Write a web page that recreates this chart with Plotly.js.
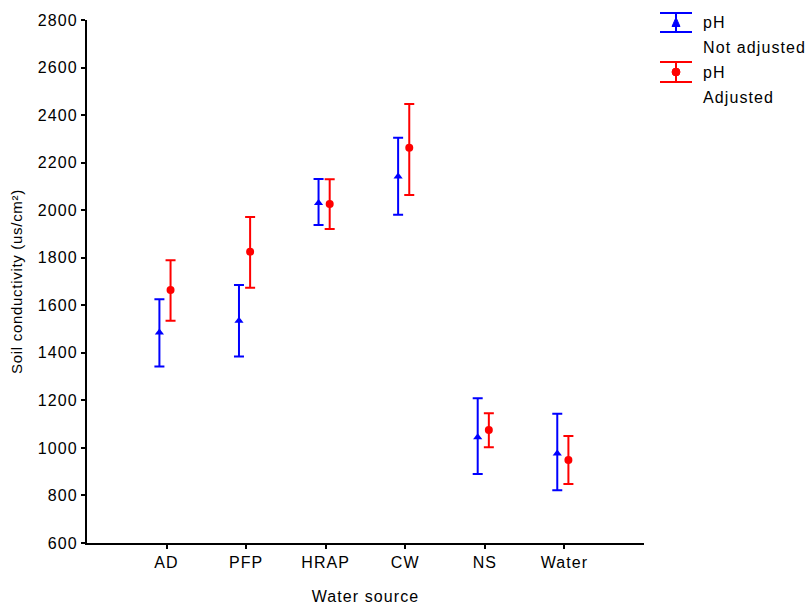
<!DOCTYPE html>
<html>
<head>
<meta charset="utf-8">
<script src="https://cdn.plot.ly/plotly-3.0.1.min.js"></script>
<style>
html,body{margin:0;padding:0;background:#fff;}
#chart{width:809px;height:605px;}
text{letter-spacing:1.1px;}
.ytitle{letter-spacing:0.7px;}
</style>
</head>
<body>
<div id="chart"></div>
<script>
// Data
const categories = ["AD", "PFP", "HRAP", "CW", "NS", "Water"];
const notAdjMean  = [1485, 1535, 2030, 2142, 1045, 977];
const notAdjUpper = [1625, 1685, 2131, 2305, 1209, 1144];
const notAdjLower = [1342, 1384, 1938, 1981, 890, 822];
const adjMean  = [1664, 1825, 2026, 2263, 1075, 949];
const adjUpper = [1789, 1971, 2130, 2447, 1146, 1050];
const adjLower = [1535, 1674, 1921, 2064, 1003, 848];
const yTicks = [600, 800, 1000, 1200, 1400, 1600, 1800, 2000, 2200, 2400, 2600, 2800];

const BLUE = "#0000ff", RED = "#ff0000";
const FONT = "Liberation Sans, Arial, sans-serif";

const idx = categories.map((c, i) => i);

const traceNot = {
  type: "scatter", mode: "markers", name: "pH Not adjusted", showlegend: false,
  x: idx.map(i => i - 0.09), y: notAdjMean,
  marker: {symbol: "triangle-up", size: 8, color: BLUE},
  error_y: {type: "data", symmetric: false,
    array: notAdjMean.map((m, i) => notAdjUpper[i] - m),
    arrayminus: notAdjMean.map((m, i) => m - notAdjLower[i]),
    color: BLUE, thickness: 2, width: 5}
};
const traceAdj = {
  type: "scatter", mode: "markers", name: "pH Adjusted", showlegend: false,
  x: idx.map(i => i + 0.05), y: adjMean,
  marker: {symbol: "circle", size: 8, color: RED},
  error_y: {type: "data", symmetric: false,
    array: adjMean.map((m, i) => adjUpper[i] - m),
    arrayminus: adjMean.map((m, i) => m - adjLower[i]),
    color: RED, thickness: 2, width: 5}
};

// plot area in pixels
const L = 87, R = 644, T = 20, B = 543;
const px = x => (x - L) / (R - L);
const py = y => (B - y) / (B - T);

function legendGlyph(cx, yTop, yBot, color, markerShape) {
  const s = [];
  const w = 16;
  s.push({type: "line", xref: "paper", yref: "paper", x0: px(cx - w), x1: px(cx + w), y0: py(yTop), y1: py(yTop), line: {color: color, width: 2}});
  s.push({type: "line", xref: "paper", yref: "paper", x0: px(cx - w), x1: px(cx + w), y0: py(yBot), y1: py(yBot), line: {color: color, width: 2}});
  s.push({type: "line", xref: "paper", yref: "paper", x0: px(cx), x1: px(cx), y0: py(yTop), y1: py(yBot), line: {color: color, width: 2}});
  const my = (yTop + yBot) / 2;
  if (markerShape === "tri") {
    s.push({type: "path", xref: "paper", yref: "paper",
      path: `M ${px(cx - 4)} ${py(my + 4)} L ${px(cx + 4)} ${py(my + 4)} L ${px(cx)} ${py(my - 5)} Z`,
      fillcolor: color, line: {color: color, width: 1}});
  } else {
    s.push({type: "circle", xref: "paper", yref: "paper", x0: px(cx - 4), x1: px(cx + 4), y0: py(my - 4), y1: py(my + 4),
      fillcolor: color, line: {color: color, width: 1}});
  }
  return s;
}

const shapes = [].concat(
  legendGlyph(676, 13, 32, BLUE, "tri"),
  legendGlyph(676, 62, 82, RED, "dot")
);

function legText(t, y) {
  return {text: t, xref: "paper", yref: "paper", x: px(701), y: py(y), xanchor: "left", yanchor: "middle",
    showarrow: false, font: {family: FONT, size: 16, color: "#000"}};
}
const annotations = [
  legText("pH", 23), legText("Not adjusted", 48),
  legText("pH", 72), legText("Adjusted", 97)
];

const layout = {
  width: 809, height: 605,
  margin: {l: L, r: 809 - R, t: T, b: 605 - B},
  paper_bgcolor: "#fff", plot_bgcolor: "#fff",
  showlegend: false,
  font: {family: FONT, size: 16, color: "#000"},
  xaxis: {
    range: [-1, 6], tickmode: "array", tickvals: idx, ticktext: categories,
    showgrid: false, zeroline: false, showline: true, linecolor: "#000", linewidth: 2,
    ticks: "outside", ticklen: 4, tickwidth: 2, tickcolor: "#000",
    tickfont: {family: FONT, size: 16},
    title: {text: "Water source", font: {family: FONT, size: 16}, standoff: 22}
  },
  yaxis: {
    range: [600, 2800], tickmode: "array", tickvals: yTicks,
    showgrid: false, zeroline: false, showline: true, linecolor: "#000", linewidth: 2,
    ticks: "outside", ticklen: 4, tickwidth: 2, tickcolor: "#000",
    tickfont: {family: FONT, size: 16},
    title: {text: "Soil conductivity (us/cm²)", font: {family: FONT, size: 15}, standoff: 12}
  },
  shapes: shapes,
  annotations: annotations
};

Plotly.newPlot("chart", [traceNot, traceAdj], layout, {displayModeBar: false, staticPlot: true});
</script>
</body>
</html>
